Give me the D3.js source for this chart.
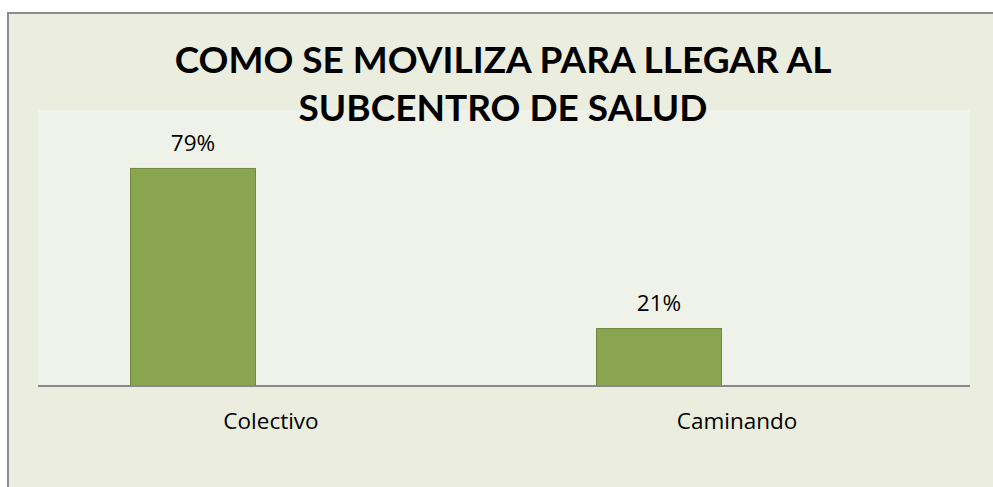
<!DOCTYPE html>
<html>
<head>
<meta charset="utf-8">
<script src="https://cdn.jsdelivr.net/npm/d3@7"></script>
<style>
  html, body { margin: 0; padding: 0; background: #ffffff; }
  svg { display: block; }
</style>
</head>
<body>
<svg id="chart" width="993" height="487"></svg>
<script>
// ---- data ----
const titleLines = ["COMO SE MOVILIZA PARA LLEGAR AL", "SUBCENTRO DE SALUD"];
const categories = ["Colectivo", "Caminando"];
const values = [0.79, 0.21];
const seriesSlots = ["Serie1", "Serie2"]; // only Serie1 carries data
const yDomain = [0, 1];

// ---- layout ----
const W = 993, H = 487;
const outer = { x: 7, y: 12 };
const plot = { left: 38, right: 970, top: 110, bottom: 386 };

const svg = d3.select("#chart");

// outer chart area
svg.append("rect")
  .attr("x", outer.x).attr("y", outer.y)
  .attr("width", W - outer.x).attr("height", H - outer.y)
  .attr("fill", "#EBEEDF");
svg.append("path")
  .attr("d", `M${outer.x + 1},${H} V${outer.y + 1} H${W}`)
  .attr("fill", "none").attr("stroke", "#8C8C8C").attr("stroke-width", 2);

// plot area
svg.append("rect")
  .attr("x", plot.left).attr("y", plot.top)
  .attr("width", plot.right - plot.left).attr("height", plot.bottom - plot.top)
  .attr("fill", "#EFF2E9");

const x = d3.scaleBand().domain(categories).range([plot.left, plot.right]).padding(0);
const inner = d3.scaleBand().domain(seriesSlots)
  .range([x.bandwidth() / 2 - 141, x.bandwidth() / 2 + 141]).paddingInner(0.1923);
const y = d3.scaleLinear().domain(yDomain).range([plot.bottom, plot.top]);

const data = categories.map((c, i) => ({ cat: c, v: values[i] }));

// bars
svg.append("g").selectAll("rect").data(data).join("rect")
  .attr("x", d => x(d.cat) + inner("Serie1") + 0.5)
  .attr("y", d => y(d.v) + 0.5)
  .attr("width", inner.bandwidth() - 1)
  .attr("height", d => y(0) - y(d.v) - 0.5)
  .attr("fill", "#8AA550")
  .attr("stroke", "#71893F").attr("stroke-width", 1);

// data labels
svg.append("g").selectAll("text").data(data).join("text")
  .attr("x", d => x(d.cat) + inner("Serie1") + inner.bandwidth() / 2)
  .attr("y", d => y(d.v) - 17)
  .attr("text-anchor", "middle")
  .attr("font-family", "'Open Sans', sans-serif")
  .attr("font-size", 22.5)
  .attr("fill", "#000")
  .text(d => Math.round(d.v * 100) + "%");

// x axis
const xAxis = d3.axisBottom(x).tickSize(0).tickPadding(0);
const gx = svg.append("g").attr("transform", `translate(0,${plot.bottom})`).call(xAxis);
gx.select(".domain").attr("stroke", "#898989").attr("stroke-width", 2)
  .attr("d", `M${plot.left},0H${plot.right}`);
gx.selectAll(".tick text")
  .attr("dy", 0).attr("y", 43)
  .attr("font-family", "'Open Sans', sans-serif")
  .attr("font-size", 22.5)
  .attr("fill", "#000");

// title
const title = svg.append("g");
title.selectAll("text").data(titleLines).join("text")
  .attr("x", 503)
  .attr("y", (d, i) => 73 + i * 48)
  .attr("text-anchor", "middle")
  .attr("font-family", "Lato, 'Open Sans', sans-serif")
  .attr("font-weight", "bold")
  .attr("font-size", 37)
  .attr("fill", "#000")
  .text(d => d);
</script>
</body>
</html>
